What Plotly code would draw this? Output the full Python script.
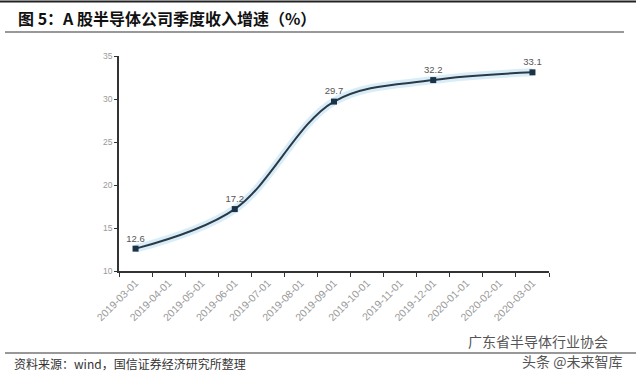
import plotly.graph_objects as go

categories = ["2019-03-01", "2019-04-01", "2019-05-01", "2019-06-01", "2019-07-01",
              "2019-08-01", "2019-09-01", "2019-10-01", "2019-11-01", "2019-12-01",
              "2020-01-01", "2020-02-01", "2020-03-01"]
growth = [12.6, None, None, 17.2, None, None, 29.7, None, None, 32.2, None, None, 33.1]
labels = ["12.6", "", "", "17.2", "", "", "29.7", "", "", "32.2", "", "", "33.1"]
y_ticks = [10, 15, 20, 25, 30, 35]

title_text = "图 5：A 股半导体公司季度收入增速（%）"
source_text = "资料来源：wind，国信证券经济研究所整理"

W, H = 640, 372
L, R, T, B = 119, 91, 56, 101
pw, ph = W - L - R, H - T - B

def px(x):
    return (x - L) / pw

def py(y):
    return (H - B - y) / ph

cjk = "Noto Sans CJK SC, Noto Sans, sans-serif"
lat = "Liberation Sans, Arial, sans-serif"

fig = go.Figure()
# soft glow beneath the line
fig.add_trace(go.Scatter(
    x=categories, y=growth, mode="lines", connectgaps=True,
    line=dict(shape="spline", color="rgba(170,215,240,0.45)", width=8),
    hoverinfo="skip", showlegend=False))
fig.add_trace(go.Scatter(
    x=categories, y=growth, mode="lines+markers+text", connectgaps=True,
    line=dict(shape="spline", color="#2b3947", width=2),
    marker=dict(symbol="square", size=6, color="#1b3349"),
    text=labels, textposition="top center",
    textfont=dict(family=lat, size=9.5, color="#555555"),
    showlegend=False))

fig.update_xaxes(
    type="category", categoryorder="array", categoryarray=categories,
    range=[-0.5, 12.5], tickson="boundaries",
    ticks="outside", ticklen=4, tickcolor="#333333", tickwidth=1,
    showline=True, linecolor="#333333", linewidth=1.5,
    showgrid=False, zeroline=False, tickangle=-45,
    tickfont=dict(family=lat, size=10.5, color="#9a9a9a"))
fig.update_yaxes(
    range=[10, 35], tickvals=y_ticks, ticktext=[str(v) for v in y_ticks],
    ticks="outside", ticklen=3, tickcolor="#333333",
    showline=True, linecolor="#333333", linewidth=1.5,
    showgrid=False, zeroline=False,
    tickfont=dict(family=lat, size=8.5, color="#9a9a9a"))

shapes = [
    dict(type="line", xref="paper", yref="paper", x0=px(0), x1=px(636), y0=py(1.5), y1=py(1.5),
         line=dict(color="#222222", width=2)),
    dict(type="line", xref="paper", yref="paper", x0=px(5), x1=px(624), y0=py(32), y1=py(32),
         line=dict(color="#333333", width=1.2)),
    dict(type="line", xref="paper", yref="paper", x0=px(5), x1=px(636), y0=py(353), y1=py(353),
         line=dict(color="#333333", width=1.2)),
]

annotations = [
    dict(text="<b>" + title_text + "</b>", xref="paper", yref="paper", x=px(16), y=py(18),
         xanchor="left", yanchor="middle", showarrow=False,
         font=dict(family=cjk, size=16, color="#111111")),
    dict(text=source_text, xref="paper", yref="paper", x=px(12), y=py(363),
         xanchor="left", yanchor="middle", showarrow=False,
         font=dict(family=cjk, size=12, color="#333333")),
    dict(text="广东省半导体行业协会", xref="paper", yref="paper", x=px(466), y=py(341),
         xanchor="left", yanchor="middle", showarrow=False,
         font=dict(family=cjk, size=14, color="#555555")),
    dict(text="头条 @未来智库", xref="paper", yref="paper", x=px(520), y=py(361),
         xanchor="left", yanchor="middle", showarrow=False,
         font=dict(family=cjk, size=14, color="#555555")),
]

fig.update_layout(
    width=W, height=H, autosize=False,
    margin=dict(l=L, r=R, t=T, b=B),
    paper_bgcolor="white", plot_bgcolor="white",
    shapes=shapes, annotations=annotations, showlegend=False)

fig.write_html("out.html", config={"displayModeBar": False})

# remove the browser's default page margin so the figure sits at (0, 0)
with open("out.html", "r", encoding="utf-8") as f:
    html = f.read()
html = html.replace("<head>", "<head><style>html,body{margin:0;padding:0;overflow:hidden;}</style>", 1)
with open("out.html", "w", encoding="utf-8") as f:
    f.write(html)
